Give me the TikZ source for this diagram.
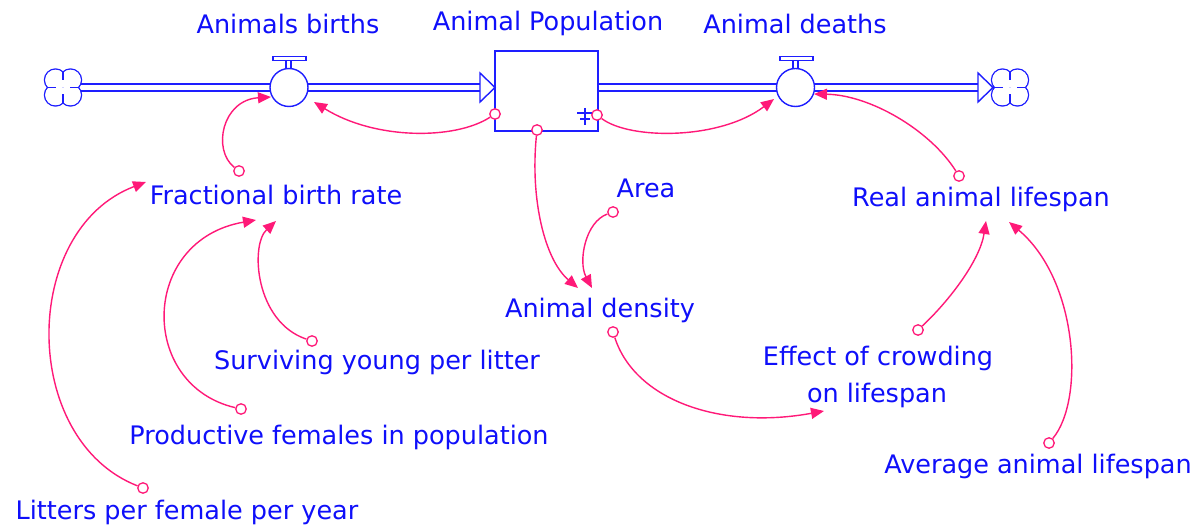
\documentclass[tikz,border=0pt]{standalone}
\usepackage{fontspec}
\setmainfont{DejaVu Sans}
\usetikzlibrary{arrows.meta}
\definecolor{vblue}{RGB}{30,30,255}
\definecolor{tblue}{RGB}{15,15,250}
\definecolor{lpink}{RGB}{255,25,120}
\tikzset{
 cloudshape/.pic={
  \foreach \a/\b in {-7.5/-7.5, 7.5/-7.5, -7.5/7.5, 7.5/7.5}
    \draw[vblue,line width=1.4pt] (\a,\b) circle[radius=11pt];
  \foreach \a/\b in {-7.5/-7.5, 7.5/-7.5, -7.5/7.5, 7.5/7.5}
    \fill[white] (\a,\b) circle[radius=10.3pt];
  \draw[vblue,line width=1.4pt] (0,-15.5)--(0,-7) (15.5,0)--(7,0) (0,15.5)--(0,7) (-15.5,0)--(-7,0);
 }
}
\begin{document}
\begin{tikzpicture}[x=1pt,y=-1pt,
 lbl/.style={text=tblue, font=\fontsize{25.5}{30}\selectfont, anchor=base, inner sep=0pt},
 pipe/.style={draw=vblue, line width=1.4pt, double=white, double distance=5.6pt},
 valve/.style={circle, draw=vblue, fill=white, line width=1.4pt, minimum size=38pt, inner sep=0pt},
 stockbox/.style={rectangle, draw=vblue, fill=white, line width=1.4pt, minimum width=103pt, minimum height=80pt, inner sep=0pt},
 link/.style={draw=lpink, line width=1.4pt, -{Triangle[length=13pt,width=11pt]}},
 src/.style={circle, draw=lpink, fill=white, line width=1.3pt, minimum size=10.5pt, inner sep=0pt},
 flowhead/.style={draw=vblue, fill=white, line width=1.4pt, line join=miter},
 tee/.style={draw=vblue, fill=white, line width=1.2pt},
]
\useasboundingbox[fill=white] (0,0) rectangle (1197,529);

% clouds and pipes
\coordinate (cloudL) at (63,87.5);
\coordinate (cloudR) at (1010,87.5);
\coordinate (headL) at (481,87.5);
\coordinate (headR) at (979,87.5);
\node[stockbox] (pop) at (546.5,91) {};
\draw[pipe] ([xshift=18pt]cloudL) -- (headL);
\draw[pipe] (pop.east |- headR) -- (headR);
\draw[flowhead] (480,73) -- (495,87.5) -- (480,102) -- cycle;
\draw[flowhead] (978,73) -- (993,87.5) -- (978,102) -- cycle;
\pic at (cloudL) {cloudshape};
\pic at (cloudR) {cloudshape};

% valves
\draw[tee] (286,60) rectangle (291,69);
\draw[tee] (273,56.5) rectangle (306,60.5);
\node[valve] (births) at (289,87.5) {};
\draw[tee] (793,60) rectangle (798,69);
\draw[tee] (780,56.5) rectangle (813,60.5);
\node[valve] (deaths) at (795.5,87.5) {};

% stock symbol
\draw[vblue, line width=1.8pt] (577,113)--(592,113) (585,108)--(585,125) (580,119)--(590,119);

% labels
\node[lbl] (lbirths) at (288,34) {Animals births};
\node[lbl] (lpop) at (548,31) {Animal Population};
\node[lbl] (ldeaths) at (795,34) {Animal deaths};
\node[lbl] (fbr) at (276,205) {Fractional birth rate};
\node[lbl] (area) at (646,198) {Area};
\node[lbl] (real) at (981,207) {Real animal lifespan};
\node[lbl] (dens) at (600,318) {Animal density};
\node[lbl] (surv) at (377,370) {Surviving young per litter};
\node[lbl] (eff1) at (878,365) {Effect of crowding};
\node[lbl] (eff2) at (877,402) {on lifespan};
\node[lbl] (prod) at (339,444) {Productive females in population};
\node[lbl] (avg) at (1038,473) {Average animal lifespan};
\node[lbl] (litt) at (187,519) {Litters per female per year};

% connectors
\node[src] (o1) at (239,171) {};   \coordinate (t1) at (271,97);
\node[src] (o2) at (495,114) {};   \coordinate (t2) at (314,102);
\node[src] (o3) at (597,115) {};   \coordinate (t3) at (774,99);
\node[src] (o4) at (959,176) {};   \coordinate (t4) at (814,94);
\node[src] (o5) at (537,130) {};   \coordinate (t5) at (578,288);
\node[src] (o6) at (613,212) {};   \coordinate (t6) at (592,288);
\node[src] (o7) at (613,332) {};   \coordinate (t7) at (824,411);
\node[src] (o8) at (918,330) {};   \coordinate (t8) at (986,221);
\node[src] (o9) at (1049,443) {};  \coordinate (t9) at (1009,222);
\node[src] (o10) at (143,488) {};  \coordinate (t10) at (146,182);
\node[src] (o11) at (241,409) {};  \coordinate (t11) at (256,220);
\node[src] (o12) at (312,341) {};  \coordinate (t12) at (276,221);

\draw[link] (o1) .. controls (212,150) and (222,100) .. (t1);
\draw[link] (o2) .. controls (455,140) and (375,140) .. (t2);
\draw[link] (o3) .. controls (630,140) and (720,140) .. (t3);
\draw[link] (o4) .. controls (930,130) and (870,95) .. (t4);
\draw[link] (o5) .. controls (530,200) and (545,260) .. (t5);
\draw[link] (o6) .. controls (585,222) and (578,262) .. (t6);
\draw[link] (o7) .. controls (635,400) and (720,430) .. (t7);
\draw[link] (o8) .. controls (950,300) and (980,260) .. (t8);
\draw[link] (o9) .. controls (1085,400) and (1078,280) .. (t9);
\draw[link] (o10) .. controls (20,440) and (20,230) .. (t10);
\draw[link] (o11) .. controls (138,385) and (140,240) .. (t11);
\draw[link] (o12) .. controls (255,322) and (250,245) .. (t12);
\end{tikzpicture}
\end{document}
